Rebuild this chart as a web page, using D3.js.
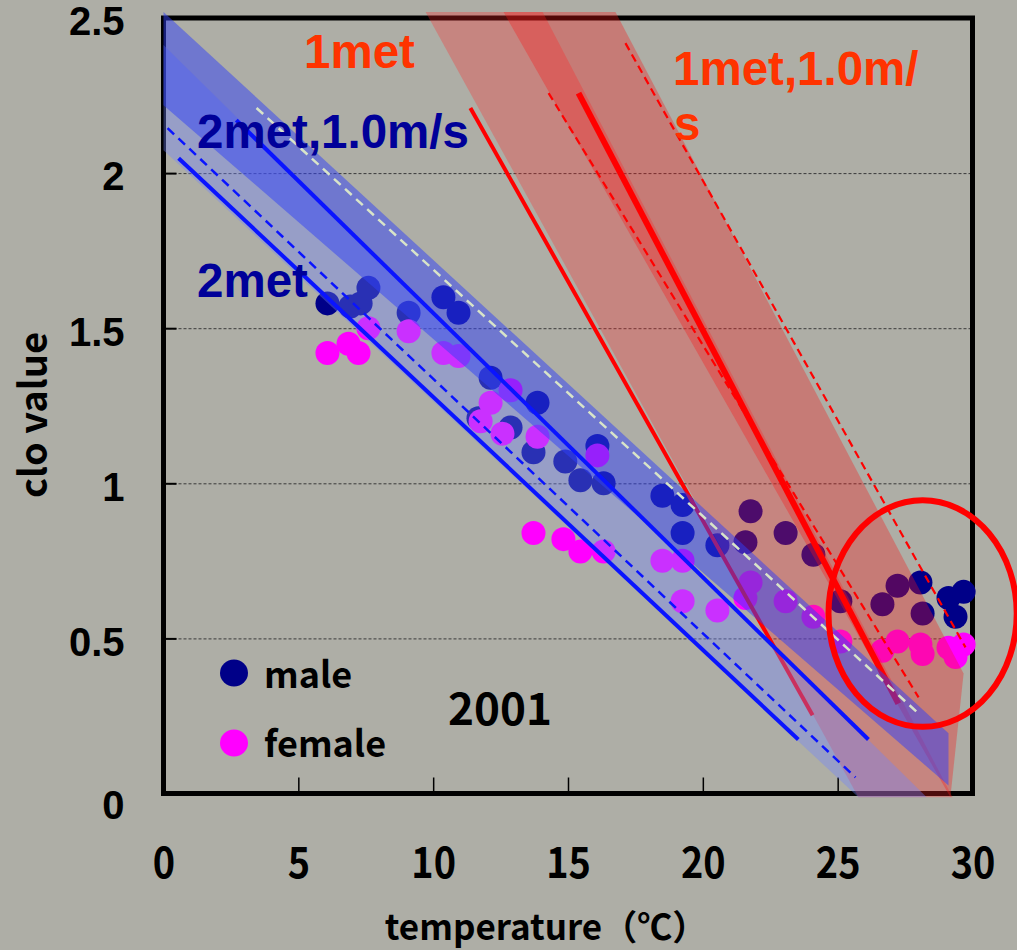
<!DOCTYPE html>
<html><head><meta charset="utf-8">
<script src="https://cdn.jsdelivr.net/npm/d3@7"></script>
<style>body{margin:0;background:#aeaea6;} svg{display:block}</style>
</head><body>
<svg id="chart" width="1017" height="950"></svg>
<script>
// ---------- data ----------
const xTicks = [0, 5, 10, 15, 20, 25, 30];
const xInnerTicks = [5, 10, 15, 20, 25];
const yTicks = [0, 0.5, 1, 1.5, 2, 2.5];
const yGrid = [0.5, 1, 1.5, 2];

const maleTemp = [6.08,6.93,7.31,7.60,9.09,10.38,10.94,12.13,13.87,11.68,12.87,13.72,14.90,15.46,16.09,16.32,18.50,19.25,19.25,20.54,21.58,21.77,23.07,24.10,25.10,26.66,27.22,28.07,28.15,29.11,29.37,29.67];
const maleClo  = [1.58,1.57,1.58,1.63,1.55,1.60,1.55,1.34,1.26,1.21,1.18,1.10,1.07,1.01,1.12,1.00,0.96,0.93,0.84,0.80,0.81,0.91,0.84,0.77,0.62,0.61,0.67,0.68,0.58,0.63,0.57,0.65];
const femaleTemp = [6.08,6.86,7.23,7.60,9.09,10.38,10.94,12.87,12.13,11.76,12.57,13.87,16.09,13.72,14.83,15.46,16.32,18.50,19.25,19.25,20.54,21.58,21.77,23.07,24.10,25.10,26.66,27.22,28.07,28.15,29.11,29.37,29.67];
const femaleClo  = [1.42,1.45,1.42,1.50,1.49,1.42,1.41,1.30,1.26,1.20,1.16,1.15,1.09,0.84,0.82,0.78,0.78,0.75,0.75,0.62,0.59,0.63,0.68,0.62,0.57,0.49,0.46,0.49,0.48,0.45,0.47,0.44,0.48];

// comfort bands (polygon corners, temperature / clo)
const bandBlueWindT   = [0, 29.11, 29.11, 0];
const bandBlueWindClo = [2.519, 0.194, 0.026, 2.219];
const bandBlueT   = [0, 28.3, 25.77, 0];
const bandBlueClo = [2.413, -0.012, -0.012, 2.074];
const bandRedT    = [9.72, 14.06, 29.26, 25.77];
const bandRedClo  = [2.519, 2.519, -0.012, -0.012];
const bandRedWindT   = [12.61, 16.76, 29.67, 29.18];
const bandRedWindClo = [2.519, 2.519, 0.387, -0.012];

// lines
const line2metWindT = [2.7, 26.14],  line2metWindClo = [2.171, 0.174];
const line2metT     = [0.56, 23.54], line2metClo     = [2.048, 0.174];
const dashBlueT     = [0.15, 25.66], dashBlueClo     = [2.145, 0.052];
const dashLightT    = [3.45, 27.96], dashLightClo    = [2.21, 0.261];
const line1metT     = [11.38, 24.07], line1metClo    = [2.21, 0.252];
const line1metWindT = [15.39, 27.25], line1metWindClo = [2.258, 0.29];
const dashRedLeftT  = [14.28, 28.0],  dashRedLeftClo  = [2.258, 0.31];
const dashRedRightT = [17.13, 29.74], dashRedRightClo = [2.419, 0.471];

// highlight ellipse (temperature, clo, half-widths)
const circleT = 28.15, circleClo = 0.58, circleRT = 3.49, circleRClo = 0.365;

// ---------- drawing ----------
const svg = d3.select("#chart");
const x = d3.scaleLinear().domain([0, 30]).range([163.5, 972.5]);
const y = d3.scaleLinear().domain([0, 2.5]).range([793.5, 18]);
const gothic = "'Noto Sans CJK JP', 'Noto Sans', sans-serif";
const arial = "'Liberation Sans', Arial, sans-serif";

svg.append("rect").attr("width", 1017).attr("height", 950).attr("fill", "#aeaea6");

// grid lines
const grid = svg.append("g").attr("transform", `translate(${x(0)},0)`)
  .call(d3.axisLeft(y).tickValues(yGrid).tickSize(-(x(30) - x(0))).tickFormat(""));
grid.select(".domain").remove();
grid.selectAll("line").attr("stroke", "#3a3a3a").attr("stroke-width", 1).attr("stroke-dasharray", "3,2");

// inner y ticks
const yt = svg.append("g").attr("transform", `translate(${x(0)},0)`)
  .call(d3.axisLeft(y).tickValues(yGrid).tickSize(-13).tickFormat(""));
yt.select(".domain").remove();
yt.selectAll("line").attr("stroke", "#000").attr("stroke-width", 2);

// inner x ticks
const xt = svg.append("g").attr("transform", `translate(0,${y(0)})`)
  .call(d3.axisBottom(x).tickValues(xInnerTicks).tickSize(-16).tickFormat(""));
xt.select(".domain").remove();
xt.selectAll("line").attr("stroke", "#000").attr("stroke-width", 1.5);

// frame
svg.append("rect").attr("x", x(0)).attr("y", y(2.5)).attr("width", x(30) - x(0)).attr("height", y(0) - y(2.5))
  .attr("fill", "none").attr("stroke", "#000").attr("stroke-width", 5);

// axis labels
const xa = svg.append("g").attr("transform", `translate(0,${y(0)})`)
  .call(d3.axisBottom(x).tickValues(xTicks).tickSize(0).tickPadding(85).tickFormat(d3.format("d")));
xa.select(".domain").remove();
xa.selectAll("text").attr("font-family", gothic).attr("font-weight", "bold").attr("font-size", 43)
  .attr("fill", "#000").attr("dy", "0").attr("transform", "scale(0.88,1)");

const ya = svg.append("g").attr("transform", `translate(${x(0) - 39},0)`)
  .call(d3.axisLeft(y).tickValues(yTicks).tickSize(0).tickPadding(0).tickFormat(d => d3.format("")(d)));
ya.select(".domain").remove();
ya.selectAll("text").attr("font-family", arial).attr("font-weight", "bold").attr("font-size", 40).attr("fill", "#000")
  .attr("dy", d => d === 0 ? "0.62em" : "0.42em");

// points
const pts = svg.append("g");
pts.selectAll(".m").data(maleTemp.map((t, i) => [t, maleClo[i]])).join("circle")
  .attr("cx", d => x(d[0])).attr("cy", d => y(d[1])).attr("r", 12).attr("fill", "#000088");
pts.selectAll(".f").data(femaleTemp.map((t, i) => [t, femaleClo[i]])).join("circle")
  .attr("cx", d => x(d[0])).attr("cy", d => y(d[1])).attr("r", 12).attr("fill", "#ff00ff");

const poly = (ts, cs) => ts.map((t, i) => [x(t), y(cs[i])].join(",")).join(" ");
const seg = (g, ts, cs) => g.append("line").attr("x1", x(ts[0])).attr("y1", y(cs[0])).attr("x2", x(ts[1])).attr("y2", y(cs[1]));

// red bands
svg.append("polygon").attr("points", poly(bandRedT, bandRedClo)).attr("fill", "rgb(255,40,40)").attr("fill-opacity", 0.3);
svg.append("polygon").attr("points", poly(bandRedWindT, bandRedWindClo)).attr("fill", "rgb(250,20,20)").attr("fill-opacity", 0.33);

// red lines
const rl = svg.append("g").attr("fill", "none");
seg(rl, line1metT, line1metClo).attr("stroke", "#ff0000").attr("stroke-width", 4);
seg(rl, line1metWindT, line1metWindClo).attr("stroke", "#ff0000").attr("stroke-width", 6);
seg(rl, dashRedLeftT, dashRedLeftClo).attr("stroke", "#ff0000").attr("stroke-width", 2.2).attr("stroke-dasharray", "8,5");
seg(rl, dashRedRightT, dashRedRightClo).attr("stroke", "#ff0000").attr("stroke-width", 2.2).attr("stroke-dasharray", "8,5");

// blue bands
svg.append("polygon").attr("points", poly(bandBlueT, bandBlueClo)).attr("fill", "rgb(110,130,255)").attr("fill-opacity", 0.37);
svg.append("polygon").attr("points", poly(bandBlueWindT, bandBlueWindClo)).attr("fill", "rgb(48,64,248)").attr("fill-opacity", 0.5);

// blue lines
const bl = svg.append("g").attr("fill", "none");
seg(bl, line2metWindT, line2metWindClo).attr("stroke", "#0a14ff").attr("stroke-width", 4);
seg(bl, line2metT, line2metClo).attr("stroke", "#0a14ff").attr("stroke-width", 4);
seg(bl, dashBlueT, dashBlueClo).attr("stroke", "#0a14ff").attr("stroke-width", 2.5).attr("stroke-dasharray", "9,6");
seg(bl, dashLightT, dashLightClo).attr("stroke", "#d8e4c8").attr("stroke-width", 2.5).attr("stroke-dasharray", "9,6");

// annotation texts
const ann = (txt, px, py, color) => svg.append("text").attr("x", px).attr("y", py).text(txt)
  .attr("font-family", arial).attr("font-weight", "bold").attr("font-size", 47.5).attr("fill", color);
ann("1met", 304, 68, "#ff3300");
ann("1met,1.0m/", 673, 85, "#ff3300");
ann("s", 674, 140, "#ff3300");
ann("2met,1.0m/s", 197, 148, "#000099");
ann("2met", 197, 297, "#000099");

svg.append("text").attr("x", 500).attr("y", 725).attr("text-anchor", "middle").text("2001")
  .attr("font-family", gothic).attr("font-weight", "bold").attr("font-size", 44).attr("fill", "#000");

// highlight ellipse
svg.append("ellipse").attr("cx", x(circleT)).attr("cy", y(circleClo))
  .attr("rx", x(circleRT) - x(0)).attr("ry", y(0) - y(circleRClo))
  .attr("fill", "none").attr("stroke", "#ff0000").attr("stroke-width", 6);

// legend
const leg = svg.append("g");
leg.append("ellipse").attr("cx", 234).attr("cy", 673).attr("rx", 14).attr("ry", 13.5).attr("fill", "#000088");
leg.append("ellipse").attr("cx", 234).attr("cy", 743).attr("rx", 14).attr("ry", 13.5).attr("fill", "#ff00ff");
leg.append("text").attr("x", 264).attr("y", 688).text("male").attr("font-family", gothic).attr("font-weight", "bold").attr("font-size", 36);
leg.append("text").attr("x", 264).attr("y", 757).text("female").attr("font-family", gothic).attr("font-weight", "bold").attr("font-size", 36);

// axis titles
svg.append("text").attr("x", 546).attr("y", 940).attr("text-anchor", "middle").text("temperature（℃）")
  .attr("font-family", gothic).attr("font-weight", "bold").attr("font-size", 35);
svg.append("text").attr("transform", "translate(47,415) rotate(-90)").attr("text-anchor", "middle").text("clo value")
  .attr("font-family", gothic).attr("font-weight", "bold").attr("font-size", 38);
</script>
</body></html>
